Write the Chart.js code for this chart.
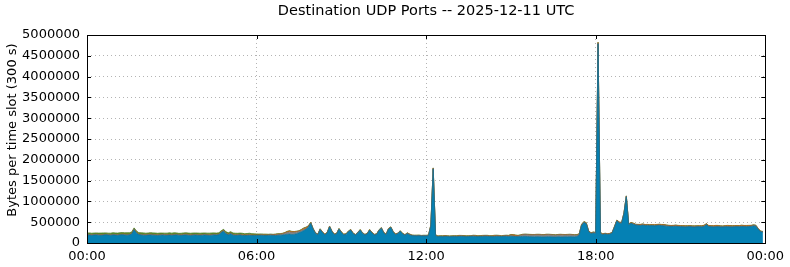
<!DOCTYPE html>
<html>
<head>
<meta charset="utf-8">
<title>Destination UDP Ports</title>
<script src="https://cdn.jsdelivr.net/npm/chart.js@4/dist/chart.umd.min.js"></script>
<style>
  html, body { margin: 0; padding: 0; background: #fff; }
  #chart { display: block; }
</style>
</head>
<body>
<canvas id="chart" width="790" height="267"></canvas>
<script>
// 5-minute slots, 288 per day; values in kB (x1000 bytes)
const SLOT_MIN = 5;
const UNIT = 1000;
const chartTitle = 'Destination UDP Ports -- 2025-12-11 UTC';
const yTitle = 'Bytes per time slot (300 s)';
const xTickLabels = ['00:00', '06:00', '12:00', '18:00', '00:00'];

const blue = [
  188,192,185,190,195,188,184,190,196,191,187,193,
  190,186,194,198,192,188,195,215,320,240,200,192,
  188,185,190,194,189,186,183,188,192,187,185,190,
  186,190,195,188,184,190,193,187,182,188,191,186,
  184,188,192,186,183,189,194,190,198,250,285,220,
  195,225,188,184,186,190,182,178,183,186,180,178,
  182,180,185,181,178,183,186,181,180,184,188,192,
  200,210,215,205,210,225,245,270,300,330,380,470,
  330,230,195,320,250,195,240,385,270,200,215,330,
  250,195,205,270,305,220,190,240,305,230,190,215,
  305,240,190,205,300,350,240,195,330,370,260,200,
  220,280,215,185,225,195,175,172,170,172,168,170,
  168,175,400,1780,175,150,155,152,158,155,150,153,
  155,152,158,160,156,150,154,158,162,157,153,156,
  158,162,160,155,152,157,161,158,155,160,163,158,
  165,160,156,152,155,158,160,156,153,150,148,152,
  150,148,146,150,152,149,147,145,150,148,146,150,
  148,152,150,148,155,190,420,490,460,270,225,240,
  230,4790,230,200,215,205,210,240,380,530,480,470,
  700,1110,440,470,450,430,425,420,430,418,422,415,
  418,412,420,425,415,410,405,400,395,398,402,396,
  392,388,385,390,393,386,382,388,390,385,395,440,
  395,388,385,390,392,386,384,389,391,387,385,390,
  392,388,395,393,390,394,398,410,405,330,270,260
];

const gray = [
  6,5,7,6,5,6,7,5,6,6,5,7,
  6,5,6,7,5,6,6,7,8,6,5,6,
  5,6,7,5,6,5,6,7,5,6,6,5,
  6,5,6,7,5,6,5,6,7,5,6,6,
  5,6,5,6,7,6,5,6,7,8,9,6,
  6,5,6,5,6,7,5,6,5,6,5,6,
  5,6,6,5,7,6,8,10,12,15,18,20,
  30,40,45,42,40,35,30,25,20,15,12,10,
  8,7,6,8,7,6,7,9,7,6,6,8,
  7,6,6,7,8,6,6,7,8,6,6,7,
  8,7,6,6,7,8,6,6,7,8,6,6,
  7,6,6,5,6,5,5,5,6,5,5,5,
  5,6,20,10,6,5,6,5,6,5,5,6,
  6,5,6,7,6,5,6,6,7,6,5,6,
  6,7,6,5,6,6,7,6,5,6,7,6,
  7,6,8,12,25,35,40,42,38,40,44,42,
  45,42,40,44,46,42,40,38,42,45,43,40,
  42,44,40,38,30,15,10,8,8,7,6,6,
  8,10,6,6,7,6,6,7,8,7,6,6,
  10,8,6,6,7,6,6,7,6,6,7,6,
  6,6,7,6,6,7,6,6,7,6,6,7,
  6,7,6,6,7,6,6,7,6,6,7,6,
  6,6,7,6,6,7,6,6,7,6,6,7,
  6,7,6,6,7,6,6,7,6,6,5,5
];

const orange = [
  8,6,10,5,12,8,6,9,7,10,8,6,
  8,12,6,9,15,10,7,8,10,12,8,9,
  10,8,12,15,9,7,8,10,12,9,8,10,
  9,12,8,7,10,14,18,12,9,8,10,7,
  8,10,12,9,7,8,10,12,8,9,10,8,
  9,12,10,8,7,9,10,8,12,10,9,8,
  6,8,7,10,8,6,9,8,12,15,10,12,
  15,20,25,22,18,15,12,20,30,25,15,10,
  8,6,7,8,6,5,7,8,6,5,7,6,
  6,7,5,6,8,6,5,7,6,5,6,7,
  6,5,7,6,8,6,5,6,7,5,6,7,
  6,5,7,5,8,10,6,5,6,7,5,6,
  6,5,10,8,12,8,6,9,10,8,7,6,
  8,10,12,7,9,10,8,6,10,12,9,8,
  10,8,12,9,10,15,12,10,8,9,10,12,
  25,30,20,12,8,10,7,6,8,7,6,8,
  7,6,8,10,6,7,8,6,7,9,8,6,
  8,7,9,6,8,10,12,10,15,10,8,12,
  10,20,12,10,8,9,10,8,12,10,15,12,
  15,10,10,12,15,10,12,15,18,15,12,14,
  15,18,14,16,20,22,18,15,14,16,18,15,
  16,18,20,15,14,16,18,15,16,18,20,15,
  15,18,20,22,18,16,15,18,20,22,20,18,
  18,20,22,18,20,18,16,15,12,10,8,8
];

const green = [
  35,40,32,38,30,36,42,38,34,30,36,40,
  38,35,40,36,32,42,38,35,25,30,36,38,
  40,36,32,35,38,42,36,34,30,35,38,40,
  36,38,34,30,35,32,28,34,36,38,34,40,
  38,35,32,36,40,38,34,30,32,28,25,35,
  36,30,35,38,34,32,36,30,28,32,30,28,
  25,22,20,18,20,15,12,10,12,10,8,10,
  8,10,12,10,8,10,8,10,12,10,8,8,
  6,5,6,7,6,5,6,7,6,5,6,6,
  7,6,5,6,6,7,5,6,6,7,6,5,
  6,6,7,5,6,6,7,6,5,6,7,6,
  6,5,6,7,6,6,5,6,7,6,5,6,
  8,7,9,8,7,8,9,8,7,8,9,8,
  8,9,7,8,8,9,8,7,8,9,8,8,
  9,8,7,8,9,8,8,9,7,8,8,9,
  8,7,8,9,8,8,7,8,9,8,7,8,
  8,9,8,7,8,9,8,8,7,8,9,8,
  9,8,7,8,9,8,8,9,7,8,8,9,
  6,5,5,6,5,5,6,5,5,6,5,5,
  5,6,5,5,6,5,5,6,5,5,6,5,
  5,5,6,5,5,6,5,5,6,5,5,6,
  6,5,5,6,5,5,6,5,5,6,5,5,
  5,6,5,5,6,5,5,6,5,5,6,5,
  5,5,6,5,5,6,5,5,6,5,5,5
];

// series drawn bottom to top
const seriesData = [blue, gray, orange, green];
const seriesFill = ['#0581b4', '#8c8c8c', '#d2711e', '#5d8f2b'];
const seriesEdge = ['#1b6f8e', '#6e6e6e', '#b0601a', '#4a7a22'];

function toPoints(arr) {
  return arr.map((v, i) => ({ x: i * SLOT_MIN, y: v }));
}

const font = 'DejaVu Sans';

// titles plus a matplotlib-style frame with inward ticks
const frameTicks = {
  id: 'frameTicks',
  afterDraw(chart) {
    const { ctx, chartArea: a, scales: { x, y } } = chart;
    const len = 4;
    ctx.save();
    ctx.fillStyle = '#000';
    ctx.textAlign = 'center';
    ctx.textBaseline = 'middle';
    ctx.font = '14.5px "' + font + '"';
    ctx.fillText(chartTitle, (a.left + a.right) / 2, 11);

    ctx.save();
    ctx.font = '13px "' + font + '"';
    ctx.translate(12.5, 130);
    ctx.rotate(-Math.PI / 2);
    ctx.fillText(yTitle, 0, 0);
    ctx.restore();

    ctx.strokeStyle = '#000';
    ctx.lineWidth = 1;
    ctx.beginPath();
    y.ticks.forEach(t => {
      const py = Math.round(y.getPixelForValue(t.value)) + 0.5;
      ctx.moveTo(a.left, py); ctx.lineTo(a.left + len, py);
      ctx.moveTo(a.right, py); ctx.lineTo(a.right - len, py);
    });
    x.ticks.forEach(t => {
      const px = Math.round(x.getPixelForValue(t.value)) + 0.5;
      ctx.moveTo(px, a.bottom); ctx.lineTo(px, a.bottom - len);
      ctx.moveTo(px, a.top); ctx.lineTo(px, a.top + len);
    });
    ctx.stroke();
    ctx.strokeRect(Math.round(a.left) + 0.5, Math.round(a.top) + 0.5,
      Math.round(a.right - a.left), Math.round(a.bottom - a.top));
    ctx.restore();
  }
};

new Chart(document.getElementById('chart'), {
  type: 'line',
  data: {
    datasets: seriesData.map((arr, i) => ({
      data: toPoints(arr),
      backgroundColor: seriesFill[i],
      borderColor: seriesEdge[i],
      borderWidth: 0.8,
      fill: i === 0 ? 'origin' : '-1',
      pointRadius: 0,
      tension: 0
    }))
  },
  options: {
    responsive: false,
    animation: false,
    events: [],
    layout: { autoPadding: false, padding: { top: 35, right: 22, left: 0, bottom: 0 } },
    plugins: {
      legend: { display: false },
      tooltip: { enabled: false },
      title: { display: false }
    },
    scales: {
      x: {
        type: 'linear',
        min: 0,
        max: 1440,
        afterFit: s => { s.height = 24; },
        afterBuildTicks: s => { s.ticks = [0, 360, 720, 1080, 1440].map(v => ({ value: v })); },
        ticks: {
          color: '#000',
          font: { family: font, size: 13 },
          padding: 6,
          maxRotation: 0,
          autoSkip: false,
          callback: (v, i) => xTickLabels[i]
        },
        grid: { color: '#b4b4b4', lineWidth: 1, drawTicks: false },
        border: { display: false, dash: [1, 3] }
      },
      y: {
        stacked: true,
        min: 0,
        max: 5000,
        afterFit: s => { s.width = 87; },
        ticks: {
          stepSize: 500,
          color: '#000',
          font: { family: font, size: 13 },
          padding: 7,
          callback: v => String(v * UNIT)
        },
        grid: { color: '#b4b4b4', lineWidth: 1, drawTicks: false },
        border: { display: false, dash: [1, 3] }
      }
    }
  },
  plugins: [frameTicks]
});
</script>
</body>
</html>
